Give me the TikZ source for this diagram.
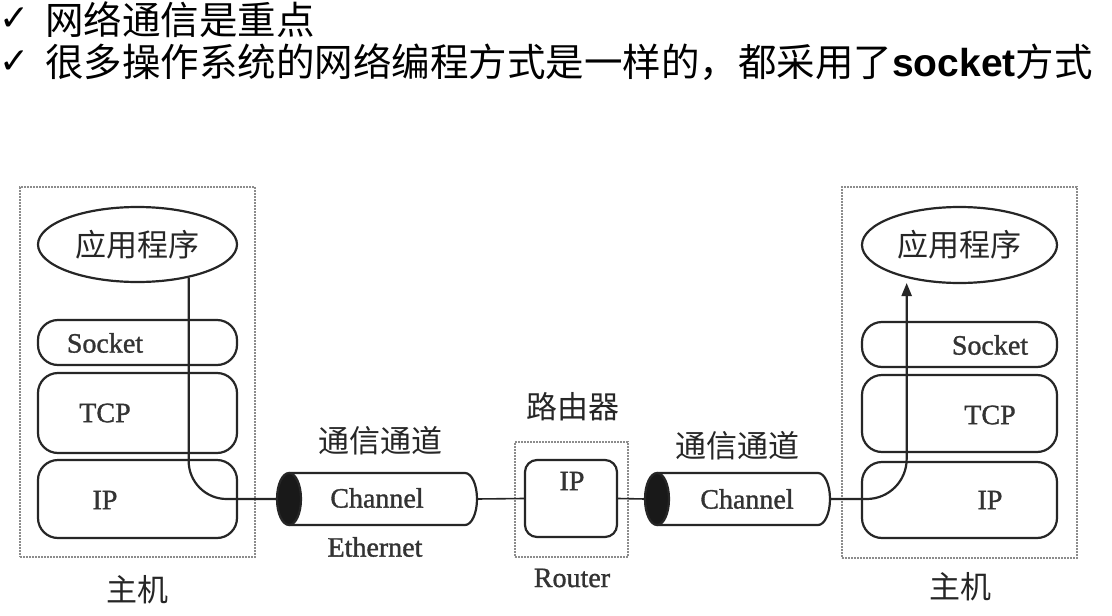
\documentclass[tikz,border=0pt]{standalone}
\usepackage{fontspec}
\setmainfont{Liberation Serif}
\newfontfamily\diafont[FakeBold=1.2]{Liberation Serif}
\newfontfamily\cjk{Noto Sans CJK SC}
\newfontfamily\symfont{DejaVu Sans}
\newfontfamily\arialfont{Liberation Sans}
\usetikzlibrary{shapes.geometric,arrows.meta}
\newcommand\drawcyl[1]{%
  \fill[black!90] ([xshift=12pt]#1.west) ellipse [x radius=12pt,y radius=26pt];
  \draw[wire] ([xshift=12pt]#1.north west) -- ([xshift=-12pt]#1.north east)
    arc[start angle=90,end angle=-90,x radius=12pt,y radius=26pt]
    -- ([xshift=12pt]#1.south west);
  \draw[wire] ([xshift=12pt]#1.west) ellipse [x radius=12pt,y radius=26pt];
}
\begin{document}
\begin{tikzpicture}[x=1pt,y=-1pt,
  layer/.style={draw=black!85,line width=2.2pt,rounded corners=20pt,fill=white,inner sep=0pt,minimum width=199pt},
  frame/.style={draw=black!45,line width=1.6pt,dash pattern=on 1.6pt off 1.4pt,inner sep=0pt},
  app/.style={ellipse,draw=black!85,line width=2.2pt,fill=white,inner sep=0pt,font=\cjk\fontsize{31}{31}\selectfont,text=black!85},
  lab/.style={font=\diafont\fontsize{28}{28}\selectfont,text=black!80,inner sep=0pt},
  cjklab/.style={font=\cjk\fontsize{31}{31}\selectfont,text=black!85,inner sep=0pt},
  chan/.style={minimum height=52pt,inner sep=0pt,outer sep=0pt},
  wire/.style={draw=black!85,line width=2.2pt},
  toptext/.style={font=\cjk\fontsize{38.5}{38.5}\selectfont,inner sep=0pt,anchor=west},
  tick/.style={font=\symfont\fontsize{36}{36}\selectfont,inner sep=0pt,anchor=west}
]
\useasboundingbox (0,0) rectangle (1112,616);
\fill[white] (0,0) rectangle (1112,616);

% title lines
\node[tick] (c1) at (-1,19) {✓};
\node[toptext] (t1) at (45,20) {网络通信是重点};
\node[tick] (c2) at (-1,62) {✓};
\node[toptext] (t2) at (45,62) {很多操作系统的网络编程方式是一样的，都采用了{\arialfont\bfseries\fontsize{39}{39}\selectfont socket}方式};

% left host
\node[frame,minimum width=235pt,minimum height=370pt] (h1) at (137.5,372) {};
\node[app,minimum width=199pt,minimum height=75pt] (a1) at (137.5,244.5) {应用程序};
\node[layer,minimum height=45pt] (s1) at (137.5,342.5) {};
\node[layer,minimum height=80pt] (tcp1) at (137.5,413) {};
\node[layer,minimum height=78pt] (ip1) at (137.5,499) {};
\node[lab] (s1t) at (105,343) {Socket};
\node[lab] (tcp1t) at (105,413) {TCP};
\node[lab] (ip1t) at (105,500) {IP};
\node[cjklab] (host1) at (137.5,590) {主机};

% right host
\node[frame,minimum width=235pt,minimum height=371pt] (h2) at (959.5,372.5) {};
\node[app,minimum width=195pt,minimum height=76pt] (a2) at (959.5,245) {应用程序};
\node[layer,minimum width=195pt,minimum height=45pt] (s2) at (959.5,344.5) {};
\node[layer,minimum width=195pt,minimum height=77pt] (tcp2) at (959.5,413.5) {};
\node[layer,minimum width=195pt,minimum height=76pt] (ip2) at (959.5,500) {};
\node[lab] (s2t) at (990,345) {Socket};
\node[lab] (tcp2t) at (990,415) {TCP};
\node[lab] (ip2t) at (990,500) {IP};
\node[cjklab] (host2) at (960,587) {主机};

% router
\node[frame,minimum width=113pt,minimum height=115pt] (rt) at (571.5,499.5) {};
\node[layer,rounded corners=12pt,minimum width=92pt,minimum height=77pt] (rip) at (571,498.5) {};
\node[lab] (ript) at (572,481) {IP};
\node[cjklab] (rtl) at (573,407) {路由器};
\node[lab] (rtr) at (572,578) {Router};

% channels
\node[chan,minimum width=200pt] (ch1) at (377,499) {};
\node[chan,minimum width=185pt] (ch2) at (737.5,499) {};
\drawcyl{ch1}
\drawcyl{ch2}
\node[lab] (ch1t) at (377,498) {Channel};
\node[lab] (ch2t) at (747,499) {Channel};
\node[lab] (eth) at (375,547) {Ethernet};
\node[cjklab] (ch1l) at (380,441) {通信通道};
\node[cjklab] (ch2l) at (737,446) {通信通道};

% connectors
\draw[wire,rounded corners=38pt] (a1.-33) -- (a1.-33 |- ch1.west) -- (ch1.west);
\draw[wire,line width=1.6pt] (ch1.east) -- (rip.west);
\draw[wire,line width=1.6pt] (rip.east) -- (ch2.west);
\draw[wire,rounded corners=40pt,-{Triangle[length=13pt,width=10pt]},shorten >=5pt]
  (ch2.east) -- (ch2.east -| a2.-148.6) -- (a2.-148.6);
\end{tikzpicture}
\end{document}
